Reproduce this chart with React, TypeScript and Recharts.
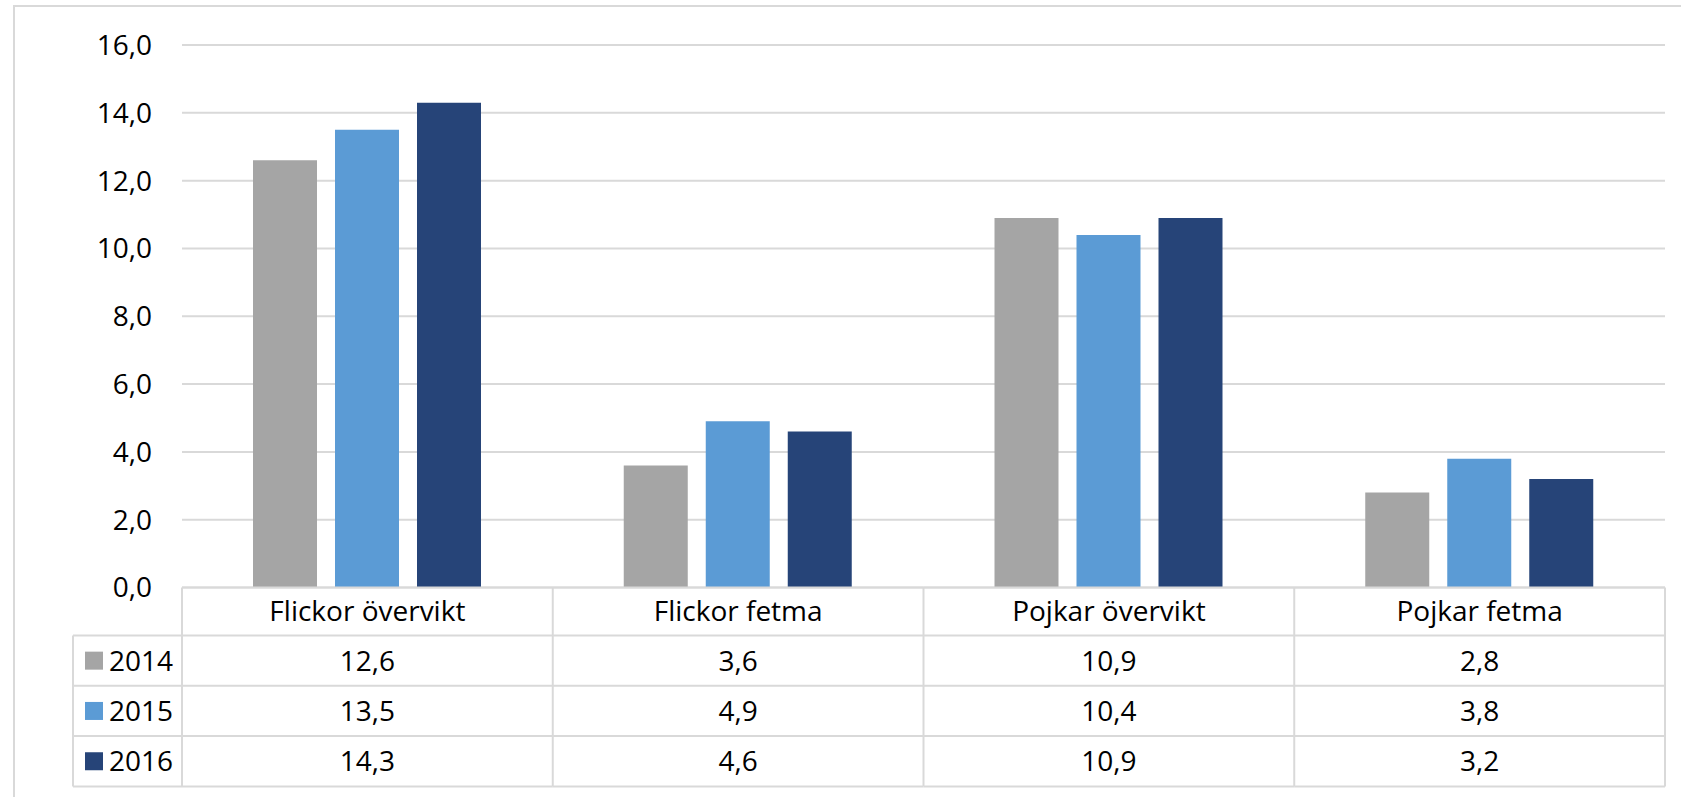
import React from "react";
import { BarChart, Bar, XAxis, YAxis, CartesianGrid } from "recharts";

const categories = ["Flickor övervikt", "Flickor fetma", "Pojkar övervikt", "Pojkar fetma"];
const years = ["2014", "2015", "2016"];
const values2014 = [12.6, 3.6, 10.9, 2.8];
const values2015 = [13.5, 4.9, 10.4, 3.8];
const values2016 = [14.3, 4.6, 10.9, 3.2];
const yTicks = [0, 2, 4, 6, 8, 10, 12, 14, 16];
const colors = ["#A5A5A5", "#5B9BD5", "#264478"];

const seriesValues = [values2014, values2015, values2016];
const seriesKeys = years.map((y) => "y" + y);

const data = categories.map((c, i) => {
  const row: Record<string, string | number> = { category: c };
  seriesKeys.forEach((k, s) => {
    row[k] = seriesValues[s][i];
  });
  return row;
});

const fmt = (v: number) => v.toFixed(1).replace(".", ",");

const FONT = "'Open Sans', sans-serif";
const WEIGHT = 500;
const TEXT = "#000000";
const LINE = "#D9D9D9";
const LW = 2;
const HEADER_H = 48;
const ROW_H = 50.3;
const LEGEND_W = 109;

function TableTick(props: any) {
  const { x, y, payload, index, width, visibleTicksCount } = props;
  const half =
    payload && typeof payload.offset === "number" && payload.offset > 0
      ? payload.offset
      : width / visibleTicksCount / 2;
  const left = x - half;
  const right = x + half;
  const top = y;
  const bottom = top + HEADER_H + ROW_H * years.length;
  const els: React.ReactNode[] = [];
  els.push(<line key="t" x1={left} x2={right} y1={top} y2={top} stroke={LINE} strokeWidth={LW} />);
  els.push(<line key="r" x1={right} x2={right} y1={top} y2={bottom} stroke={LINE} strokeWidth={LW} />);
  if (index === 0) {
    els.push(<line key="l" x1={left} x2={left} y1={top} y2={bottom} stroke={LINE} strokeWidth={LW} />);
  }
  for (let r = 0; r <= years.length; r++) {
    const ly = top + HEADER_H + ROW_H * r;
    const lx = index === 0 ? left - LEGEND_W : left;
    els.push(<line key={"h" + r} x1={lx} x2={right} y1={ly} y2={ly} stroke={LINE} strokeWidth={LW} />);
  }
  els.push(
    <text key="head" x={x} y={top + HEADER_H / 2 + 9} textAnchor="middle" fontFamily={FONT} fontWeight={WEIGHT} fontSize={28} fill={TEXT} stroke="none">
      {payload.value}
    </text>
  );
  years.forEach((yr, s) => {
    const cy = top + HEADER_H + ROW_H * s + ROW_H / 2;
    els.push(
      <text key={"v" + s} x={x} y={cy + 10} textAnchor="middle" fontFamily={FONT} fontWeight={WEIGHT} fontSize={28} fill={TEXT} stroke="none">
        {fmt(seriesValues[s][index])}
      </text>
    );
    if (index === 0) {
      const lx = left - LEGEND_W;
      els.push(<rect key={"sq" + s} x={lx + 12} y={cy - 9} width={18} height={18} fill={colors[s]} stroke="none" />);
      els.push(
        <text key={"yr" + s} x={lx + 36} y={cy + 10} textAnchor="start" fontFamily={FONT} fontWeight={WEIGHT} fontSize={28} fill={TEXT} stroke="none">
          {yr}
        </text>
      );
    }
  });
  if (index === 0) {
    const lx = left - LEGEND_W;
    els.push(<line key="ll" x1={lx} x2={lx} y1={top + HEADER_H} y2={bottom} stroke={LINE} strokeWidth={LW} />);
  }
  return <g>{els}</g>;
}

export default function App() {
  return (
    <div style={{ position: "absolute", left: 0, top: 0, width: 1681, height: 797, background: "#fff", overflow: "hidden" }}>
      <div
        style={{
          position: "absolute",
          left: 13,
          top: 5,
          width: 1700,
          height: 820,
          borderLeft: `2px solid ${LINE}`,
          borderTop: `2px solid ${LINE}`,
        }}
      />
      <div style={{ position: "absolute", left: 0, top: 0 }}>
        <BarChart
          width={1681}
          height={797}
          data={data}
          margin={{ top: 45, right: 16, bottom: 9.5, left: 0 }}
          barCategoryGap={71}
          barGap={18}
        >
          <CartesianGrid horizontal vertical={false} stroke={LINE} strokeWidth={LW} />
          <YAxis
            width={182}
            domain={[0, 16]}
            ticks={yTicks}
            interval={0}
            axisLine={false}
            tickLine={false}
            tickSize={6}
            tickMargin={24}
            tickFormatter={(v: number) => fmt(v)}
            tick={{ fontSize: 28, fill: TEXT, fontFamily: FONT, fontWeight: WEIGHT }}
          />
          <XAxis
            dataKey="category"
            height={200}
            axisLine={false}
            tickLine={false}
            tickSize={0}
            tickMargin={0}
            interval={0}
            tick={<TableTick />}
          />
          {seriesKeys.map((k, s) => (
            <Bar key={k} dataKey={k} name={years[s]} fill={colors[s]} isAnimationActive={false} />
          ))}
        </BarChart>
      </div>
    </div>
  );
}
